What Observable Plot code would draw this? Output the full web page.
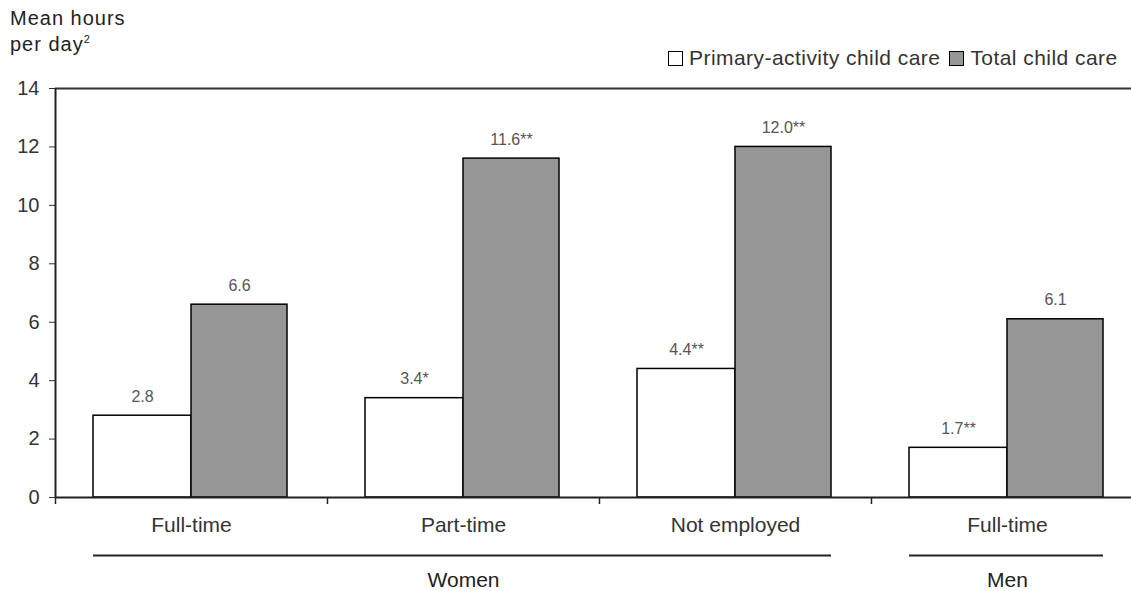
<!DOCTYPE html>
<html>
<head>
<meta charset="utf-8">
<script src="https://cdn.jsdelivr.net/npm/d3@7"></script>
<script src="https://cdn.jsdelivr.net/npm/@observablehq/plot@0.6"></script>
<style>
  html, body { margin: 0; padding: 0; background: #fff; overflow: hidden; }
  #wrap { position: relative; width: 1131px; height: 591px; font-family: "Liberation Sans", Arial, sans-serif; color: #333; }
  #title { position: absolute; left: 10px; top: 8px; font-size: 20px; line-height: 21px; letter-spacing: 1px; color: #222; z-index: 2; }
  #title sup { font-size: 11px; vertical-align: 8px; letter-spacing: 0; }
  #legend { position: absolute; left: 668px; top: 46px; font-size: 21px; letter-spacing: 0.45px; color: #333; display: flex; align-items: center; white-space: nowrap; z-index: 2; }
  .sw { display: inline-block; width: 13px; height: 13px; border: 1.5px solid #000; margin-right: 6px; }
  .item { display: flex; align-items: center; margin-right: 9px; }
  svg { position: absolute; left: 0; top: 0; }
</style>
</head>
<body>
<div id="wrap">
  <div id="title">Mean hours<br>per day<sup>2</sup></div>
  <div id="legend">
    <span class="item"><span class="sw" style="background:#fff"></span>Primary-activity child care</span>
    <span class="item"><span class="sw" style="background:#969696"></span>Total child care</span>
  </div>
</div>
<script>
// ---- data ----
const keys = ["Women|Full-time", "Women|Part-time", "Women|Not employed", "Men|Full-time"];
const employment = ["Full-time", "Part-time", "Not employed", "Full-time"];
const sex = ["Women", "Women", "Women", "Men"];
const primaryValues = [2.8, 3.4, 4.4, 1.7];
const totalValues = [6.6, 11.6, 12.0, 6.1];
const primaryLabels = ["2.8", "3.4*", "4.4**", "1.7**"];
const totalLabels = ["6.6", "11.6**", "12.0**", "6.1"];
const yTicks = [0, 2, 4, 6, 8, 10, 12, 14];
const sexGroups = [
  {sex: "Women", first: "Women|Full-time", last: "Women|Not employed", mid: "Women|Part-time"},
  {sex: "Men", first: "Men|Full-time", last: "Men|Full-time", mid: "Men|Full-time"}
];

const rows = keys.map((k, i) => ({
  key: k, employment: employment[i], sex: sex[i],
  primary: primaryValues[i], total: totalValues[i],
  pLabel: primaryLabels[i], tLabel: totalLabels[i]
}));

const W = 1131, H = 591, mL = 55, mR = -12, mT = 88, mB = 94;
const bw = (W - mL - mR) / keys.length;
const font = "Liberation Sans, Arial, sans-serif";

const chart = Plot.plot({
  width: W, height: H,
  marginLeft: mL, marginRight: mR, marginTop: mT, marginBottom: mB,
  style: {fontFamily: font, background: "transparent", overflow: "visible"},
  x: {domain: keys, padding: 0, axis: null},
  y: {domain: [0, 14], axis: null},
  marks: [
    Plot.ruleY([14], {stroke: "#333", strokeWidth: 2}),
    Plot.barY(rows, {x: "key", y: "primary", fill: "#fff", stroke: "#000", strokeWidth: 1.5, insetLeft: 38, insetRight: 136}),
    Plot.barY(rows, {x: "key", y: "total", fill: "#969696", stroke: "#000", strokeWidth: 1.5, insetLeft: 136, insetRight: 40}),
    Plot.text(rows, {x: "key", y: "primary", text: "pLabel", dx: -49, dy: -19, fontSize: 16, fill: "#555"}),
    Plot.text(rows, {x: "key", y: "total", text: "tLabel", dx: 48, dy: -19, fontSize: 16, fill: "#555"}),
    // y axis
    Plot.axisY({ticks: yTicks, tickSize: 6, tickPadding: 10, fontSize: 20, color: "#333", tickFormat: d3.format("d")}),
    Plot.ruleX([keys[0]], {x: d => d, y1: 0, y2: 14, dx: -bw / 2, stroke: "#222", strokeWidth: 2}),
    // x axis line
    Plot.ruleY([0], {stroke: "#222", strokeWidth: 2}),
    // x ticks at band boundaries
    Plot.axisX({tickSize: 7, tickFormat: () => "", dx: -bw / 2, stroke: "#222", strokeWidth: 1.5}),
    // category labels
    Plot.axisX({tickSize: 0, tickPadding: 20, fontSize: 21, fill: "#333", tickFormat: k => employment[keys.indexOf(k)]}),
    // group rules (span the bars of the group's bands) and labels
    Plot.ruleY(sexGroups, {x1: "first", x2: "last", y: 0, dy: 58, stroke: "#222", strokeWidth: 2, insetLeft: 38, insetRight: 40}),
    Plot.text(sexGroups, {x: "mid", y: 0, text: "sex", dy: 83, fontSize: 21, fill: "#222"})
  ]
});
document.getElementById("wrap").prepend(chart);
</script>
</body>
</html>
